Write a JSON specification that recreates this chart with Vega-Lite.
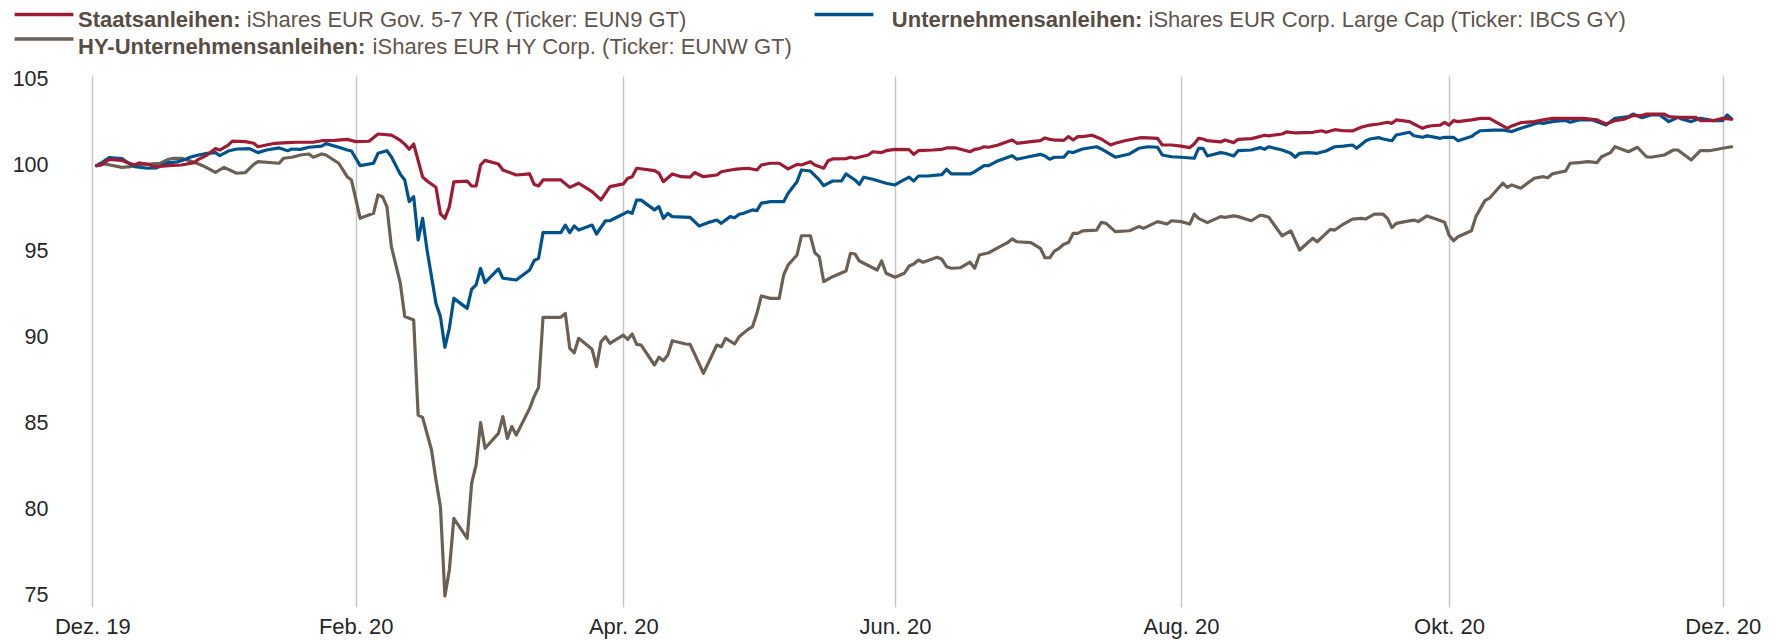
{
"$schema": "https://vega.github.io/schema/vega-lite/v6.json",
"width": 1660, "height": 531,
"autosize": {"type": "none"},
"padding": {"left": 92, "top": 76, "right": 27, "bottom": 33},
"background": "white",
"config": {"view": {"stroke": null}, "font": "Liberation Sans"},
"datasets": {
"hy": [
{"date":"2019-12-02","value":100.0},{"date":"2019-12-04","value":100.1},{"date":"2019-12-08","value":99.9},{"date":"2019-12-10","value":99.94},{"date":"2019-12-12","value":100.08},{"date":"2019-12-15","value":100.1},{"date":"2019-12-17","value":100.14},{"date":"2019-12-19","value":100.37},{"date":"2019-12-20","value":100.43},{"date":"2019-12-22","value":100.43},{"date":"2019-12-25","value":100.2},{"date":"2019-12-27","value":100.0},{"date":"2019-12-30","value":99.61},{"date":"2020-01-01","value":99.9},{"date":"2020-01-04","value":99.56},{"date":"2020-01-06","value":99.6},{"date":"2020-01-08","value":100.08},{"date":"2020-01-09","value":100.23},{"date":"2020-01-14","value":100.14},{"date":"2020-01-15","value":100.43},{"date":"2020-01-17","value":100.49},{"date":"2020-01-19","value":100.62},{"date":"2020-01-21","value":100.68},{"date":"2020-01-22","value":100.49},{"date":"2020-01-24","value":100.68},{"date":"2020-01-25","value":100.62},{"date":"2020-01-28","value":100.14},{"date":"2020-01-30","value":99.36},{"date":"2020-01-31","value":99.17},
{"date":"2020-02-02","value":96.94},{"date":"2020-02-05","value":97.23},{"date":"2020-02-06","value":98.3},{"date":"2020-02-07","value":98.2},{"date":"2020-02-08","value":97.62},{"date":"2020-02-09","value":95.3},{"date":"2020-02-11","value":93.17},{"date":"2020-02-12","value":91.23},{"date":"2020-02-13","value":91.13},{"date":"2020-02-14","value":91.03},{"date":"2020-02-15","value":85.51},{"date":"2020-02-16","value":85.38},{"date":"2020-02-18","value":83.48},{"date":"2020-02-19","value":81.74},{"date":"2020-02-20","value":80.19},{"date":"2020-02-21","value":75.0},{"date":"2020-02-22","value":76.51},{"date":"2020-02-23","value":79.51},{"date":"2020-02-26","value":78.35},{"date":"2020-02-27","value":81.55},{"date":"2020-02-28","value":82.61},{"date":"2020-02-29","value":85.07},
{"date":"2020-03-01","value":83.58},{"date":"2020-03-04","value":84.45},{"date":"2020-03-05","value":85.42},{"date":"2020-03-06","value":84.16},{"date":"2020-03-07","value":84.84},{"date":"2020-03-08","value":84.35},{"date":"2020-03-11","value":85.9},{"date":"2020-03-12","value":86.58},{"date":"2020-03-13","value":87.12},{"date":"2020-03-14","value":91.19},{"date":"2020-03-18","value":91.19},{"date":"2020-03-19","value":91.42},{"date":"2020-03-20","value":89.39},{"date":"2020-03-21","value":89.13},{"date":"2020-03-22","value":89.97},{"date":"2020-03-25","value":89.33},{"date":"2020-03-26","value":88.32},{"date":"2020-03-27","value":89.77},{"date":"2020-03-28","value":90.06},{"date":"2020-03-29","value":89.68},
{"date":"2020-04-01","value":90.16},{"date":"2020-04-02","value":89.91},{"date":"2020-04-03","value":90.22},{"date":"2020-04-04","value":89.62},{"date":"2020-04-05","value":89.58},{"date":"2020-04-08","value":88.42},{"date":"2020-04-09","value":88.87},{"date":"2020-04-10","value":88.67},{"date":"2020-04-11","value":89.0},{"date":"2020-04-12","value":89.83},{"date":"2020-04-15","value":89.64},{"date":"2020-04-16","value":89.62},{"date":"2020-04-19","value":87.94},{"date":"2020-04-22","value":89.58},{"date":"2020-04-23","value":89.48},{"date":"2020-04-24","value":89.97},{"date":"2020-04-26","value":89.64},{"date":"2020-04-27","value":90.06},{"date":"2020-04-29","value":90.49},{"date":"2020-04-30","value":90.64},
{"date":"2020-05-01","value":91.42},{"date":"2020-05-02","value":92.43},{"date":"2020-05-04","value":92.29},{"date":"2020-05-06","value":92.29},{"date":"2020-05-07","value":93.65},{"date":"2020-05-08","value":94.23},{"date":"2020-05-10","value":94.81},{"date":"2020-05-11","value":95.93},{"date":"2020-05-13","value":95.93},{"date":"2020-05-14","value":94.94},{"date":"2020-05-15","value":94.71},{"date":"2020-05-16","value":93.26},{"date":"2020-05-18","value":93.55},{"date":"2020-05-21","value":93.88},{"date":"2020-05-22","value":94.91},{"date":"2020-05-23","value":94.87},{"date":"2020-05-24","value":94.46},{"date":"2020-05-28","value":93.94},{"date":"2020-05-29","value":94.46},{"date":"2020-05-30","value":93.75},
{"date":"2020-06-01","value":93.52},{"date":"2020-06-03","value":93.75},{"date":"2020-06-04","value":94.17},{"date":"2020-06-05","value":94.29},{"date":"2020-06-06","value":94.52},{"date":"2020-06-07","value":94.39},{"date":"2020-06-10","value":94.68},{"date":"2020-06-11","value":94.56},{"date":"2020-06-12","value":94.13},{"date":"2020-06-13","value":94.04},{"date":"2020-06-15","value":94.07},{"date":"2020-06-17","value":94.39},{"date":"2020-06-18","value":94.04},{"date":"2020-06-19","value":94.81},{"date":"2020-06-21","value":94.94},{"date":"2020-06-23","value":95.24},{"date":"2020-06-25","value":95.53},{"date":"2020-06-26","value":95.74},{"date":"2020-06-27","value":95.58},{"date":"2020-06-30","value":95.53},
{"date":"2020-07-02","value":95.2},{"date":"2020-07-03","value":94.65},{"date":"2020-07-04","value":94.65},{"date":"2020-07-05","value":95.04},{"date":"2020-07-06","value":95.2},{"date":"2020-07-07","value":95.43},{"date":"2020-07-08","value":95.53},{"date":"2020-07-09","value":96.07},{"date":"2020-07-10","value":96.07},{"date":"2020-07-11","value":96.21},{"date":"2020-07-14","value":96.26},{"date":"2020-07-15","value":96.71},{"date":"2020-07-16","value":96.65},{"date":"2020-07-18","value":96.17},{"date":"2020-07-21","value":96.22},{"date":"2020-07-23","value":96.46},{"date":"2020-07-24","value":96.36},{"date":"2020-07-27","value":96.75},{"date":"2020-07-29","value":96.61},{"date":"2020-07-30","value":96.8},
{"date":"2020-08-01","value":96.75},{"date":"2020-08-03","value":96.61},{"date":"2020-08-04","value":97.19},{"date":"2020-08-05","value":96.94},{"date":"2020-08-07","value":96.69},{"date":"2020-08-10","value":97.04},{"date":"2020-08-11","value":97.0},{"date":"2020-08-13","value":97.08},{"date":"2020-08-14","value":97.04},{"date":"2020-08-17","value":96.8},{"date":"2020-08-19","value":97.12},{"date":"2020-08-20","value":97.08},{"date":"2020-08-21","value":97.0},{"date":"2020-08-24","value":95.93},{"date":"2020-08-26","value":96.21},{"date":"2020-08-28","value":95.1},{"date":"2020-08-31","value":95.78},
{"date":"2020-09-01","value":95.58},{"date":"2020-09-04","value":96.3},{"date":"2020-09-05","value":96.26},{"date":"2020-09-07","value":96.61},{"date":"2020-09-09","value":96.9},{"date":"2020-09-11","value":96.94},{"date":"2020-09-12","value":96.9},{"date":"2020-09-14","value":97.19},{"date":"2020-09-16","value":97.18},{"date":"2020-09-17","value":96.94},{"date":"2020-09-18","value":96.4},{"date":"2020-09-19","value":96.65},{"date":"2020-09-21","value":96.75},{"date":"2020-09-23","value":96.84},{"date":"2020-09-24","value":96.75},{"date":"2020-09-26","value":97.08},{"date":"2020-09-28","value":96.9},{"date":"2020-09-30","value":96.71},
{"date":"2020-10-01","value":95.97},{"date":"2020-10-02","value":95.64},{"date":"2020-10-03","value":95.87},{"date":"2020-10-06","value":96.22},{"date":"2020-10-07","value":97.04},{"date":"2020-10-09","value":97.97},{"date":"2020-10-10","value":98.11},{"date":"2020-10-13","value":98.98},{"date":"2020-10-14","value":98.74},{"date":"2020-10-15","value":98.88},{"date":"2020-10-17","value":98.69},{"date":"2020-10-20","value":99.27},{"date":"2020-10-22","value":99.36},{"date":"2020-10-23","value":99.3},{"date":"2020-10-24","value":99.52},{"date":"2020-10-27","value":99.69},{"date":"2020-10-28","value":100.14},{"date":"2020-10-30","value":100.18},
{"date":"2020-11-01","value":100.23},{"date":"2020-11-03","value":100.18},{"date":"2020-11-04","value":100.52},{"date":"2020-11-06","value":100.76},{"date":"2020-11-07","value":101.1},{"date":"2020-11-10","value":100.81},{"date":"2020-11-12","value":101.07},{"date":"2020-11-14","value":100.52},{"date":"2020-11-15","value":100.49},{"date":"2020-11-18","value":100.62},{"date":"2020-11-20","value":100.91},{"date":"2020-11-21","value":100.91},{"date":"2020-11-24","value":100.33},{"date":"2020-11-26","value":100.87},{"date":"2020-11-28","value":100.87},{"date":"2020-12-01","value":101.01},{"date":"2020-12-03","value":101.1}
],
"corp": [
{"date":"2019-12-02","value":100.0},{"date":"2019-12-03","value":100.14},{"date":"2019-12-05","value":100.47},{"date":"2019-12-08","value":100.41},{"date":"2019-12-09","value":100.23},{"date":"2019-12-11","value":99.94},{"date":"2019-12-14","value":99.85},{"date":"2019-12-16","value":99.87},{"date":"2019-12-19","value":100.18},{"date":"2019-12-21","value":100.22},{"date":"2019-12-23","value":100.37},{"date":"2019-12-24","value":100.49},{"date":"2019-12-26","value":100.62},{"date":"2019-12-28","value":100.72},{"date":"2019-12-30","value":100.76},{"date":"2019-12-31","value":100.58},
{"date":"2020-01-02","value":100.85},{"date":"2020-01-04","value":100.97},{"date":"2020-01-07","value":100.99},{"date":"2020-01-09","value":100.76},{"date":"2020-01-11","value":100.91},{"date":"2020-01-14","value":101.03},{"date":"2020-01-16","value":100.87},{"date":"2020-01-17","value":100.97},{"date":"2020-01-19","value":100.95},{"date":"2020-01-21","value":101.07},{"date":"2020-01-24","value":101.14},{"date":"2020-01-25","value":101.28},{"date":"2020-01-28","value":101.07},{"date":"2020-01-30","value":100.91},{"date":"2020-01-31","value":100.85},
{"date":"2020-02-02","value":100.0},{"date":"2020-02-05","value":100.14},{"date":"2020-02-06","value":100.72},{"date":"2020-02-08","value":100.87},{"date":"2020-02-09","value":100.52},{"date":"2020-02-11","value":99.5},{"date":"2020-02-12","value":99.17},{"date":"2020-02-13","value":97.91},{"date":"2020-02-14","value":98.2},{"date":"2020-02-15","value":95.68},{"date":"2020-02-16","value":96.94},{"date":"2020-02-17","value":95.1},{"date":"2020-02-19","value":92.0},{"date":"2020-02-20","value":91.23},{"date":"2020-02-21","value":89.45},{"date":"2020-02-22","value":90.55},{"date":"2020-02-23","value":92.29},{"date":"2020-02-26","value":91.71},{"date":"2020-02-27","value":92.82},{"date":"2020-02-28","value":93.07},{"date":"2020-02-29","value":94.04},
{"date":"2020-03-01","value":93.2},{"date":"2020-03-04","value":94.0},{"date":"2020-03-05","value":93.46},{"date":"2020-03-08","value":93.36},{"date":"2020-03-11","value":93.94},{"date":"2020-03-12","value":94.48},{"date":"2020-03-13","value":94.62},{"date":"2020-03-14","value":96.11},{"date":"2020-03-18","value":96.11},{"date":"2020-03-19","value":96.55},{"date":"2020-03-20","value":96.11},{"date":"2020-03-21","value":96.5},{"date":"2020-03-22","value":96.26},{"date":"2020-03-25","value":96.55},{"date":"2020-03-26","value":96.03},{"date":"2020-03-28","value":96.8},{"date":"2020-03-29","value":96.8},
{"date":"2020-04-01","value":97.19},{"date":"2020-04-02","value":97.33},{"date":"2020-04-03","value":97.23},{"date":"2020-04-04","value":98.0},{"date":"2020-04-05","value":98.0},{"date":"2020-04-08","value":97.43},{"date":"2020-04-09","value":97.62},{"date":"2020-04-10","value":96.94},{"date":"2020-04-11","value":97.23},{"date":"2020-04-12","value":97.04},{"date":"2020-04-16","value":97.0},{"date":"2020-04-18","value":96.5},{"date":"2020-04-20","value":96.69},{"date":"2020-04-22","value":96.84},{"date":"2020-04-23","value":96.65},{"date":"2020-04-25","value":97.04},{"date":"2020-04-26","value":96.97},{"date":"2020-04-27","value":97.18},{"date":"2020-04-28","value":97.23},{"date":"2020-04-30","value":97.43},
{"date":"2020-05-01","value":97.39},{"date":"2020-05-02","value":97.82},{"date":"2020-05-04","value":97.91},{"date":"2020-05-07","value":97.91},{"date":"2020-05-08","value":98.4},{"date":"2020-05-10","value":99.07},{"date":"2020-05-11","value":99.75},{"date":"2020-05-13","value":99.69},{"date":"2020-05-15","value":99.17},{"date":"2020-05-16","value":98.84},{"date":"2020-05-18","value":99.11},{"date":"2020-05-20","value":99.11},{"date":"2020-05-21","value":99.52},{"date":"2020-05-23","value":99.17},{"date":"2020-05-24","value":98.92},{"date":"2020-05-25","value":99.33},{"date":"2020-05-27","value":99.21},{"date":"2020-05-30","value":98.98},
{"date":"2020-06-01","value":98.88},{"date":"2020-06-02","value":99.04},{"date":"2020-06-04","value":99.33},{"date":"2020-06-05","value":99.11},{"date":"2020-06-06","value":99.4},{"date":"2020-06-08","value":99.4},{"date":"2020-06-11","value":99.48},{"date":"2020-06-12","value":99.79},{"date":"2020-06-13","value":99.52},{"date":"2020-06-17","value":99.52},{"date":"2020-06-18","value":99.65},{"date":"2020-06-20","value":100.0},{"date":"2020-06-21","value":100.0},{"date":"2020-06-23","value":100.29},{"date":"2020-06-26","value":100.58},{"date":"2020-06-27","value":100.37},{"date":"2020-06-29","value":100.49},
{"date":"2020-07-02","value":100.66},{"date":"2020-07-03","value":100.56},{"date":"2020-07-04","value":100.37},{"date":"2020-07-05","value":100.49},{"date":"2020-07-07","value":100.49},{"date":"2020-07-08","value":100.81},{"date":"2020-07-09","value":100.76},{"date":"2020-07-11","value":100.97},{"date":"2020-07-14","value":101.1},{"date":"2020-07-15","value":100.97},{"date":"2020-07-18","value":100.49},{"date":"2020-07-21","value":100.68},{"date":"2020-07-23","value":101.01},{"date":"2020-07-25","value":101.1},{"date":"2020-07-27","value":101.07},{"date":"2020-07-28","value":100.62},{"date":"2020-07-30","value":100.52},
{"date":"2020-08-01","value":100.49},{"date":"2020-08-04","value":100.43},{"date":"2020-08-05","value":101.01},{"date":"2020-08-06","value":101.01},{"date":"2020-08-07","value":100.56},{"date":"2020-08-10","value":100.76},{"date":"2020-08-11","value":100.72},{"date":"2020-08-13","value":100.56},{"date":"2020-08-14","value":100.87},{"date":"2020-08-17","value":100.91},{"date":"2020-08-19","value":101.05},{"date":"2020-08-20","value":100.95},{"date":"2020-08-21","value":101.1},{"date":"2020-08-24","value":100.91},{"date":"2020-08-26","value":100.72},{"date":"2020-08-27","value":100.49},{"date":"2020-08-28","value":100.72},{"date":"2020-08-30","value":100.76},
{"date":"2020-09-01","value":100.72},{"date":"2020-09-03","value":100.85},{"date":"2020-09-05","value":101.1},{"date":"2020-09-07","value":101.14},{"date":"2020-09-09","value":101.2},{"date":"2020-09-10","value":101.01},{"date":"2020-09-12","value":101.43},{"date":"2020-09-13","value":101.55},{"date":"2020-09-15","value":101.63},{"date":"2020-09-16","value":101.55},{"date":"2020-09-18","value":101.45},{"date":"2020-09-19","value":101.78},{"date":"2020-09-22","value":101.94},{"date":"2020-09-23","value":101.74},{"date":"2020-09-25","value":101.65},{"date":"2020-09-26","value":101.73},{"date":"2020-09-27","value":101.69},{"date":"2020-09-29","value":101.59},{"date":"2020-09-30","value":101.65},
{"date":"2020-10-02","value":101.65},{"date":"2020-10-03","value":101.45},{"date":"2020-10-06","value":101.69},{"date":"2020-10-07","value":101.88},{"date":"2020-10-08","value":102.03},{"date":"2020-10-11","value":102.07},{"date":"2020-10-13","value":102.07},{"date":"2020-10-15","value":101.98},{"date":"2020-10-17","value":102.17},{"date":"2020-10-20","value":102.42},{"date":"2020-10-21","value":102.5},{"date":"2020-10-22","value":102.46},{"date":"2020-10-24","value":102.56},{"date":"2020-10-26","value":102.62},{"date":"2020-10-27","value":102.62},{"date":"2020-10-28","value":102.52},{"date":"2020-10-30","value":102.66},
{"date":"2020-11-02","value":102.66},{"date":"2020-11-05","value":102.36},{"date":"2020-11-07","value":102.75},{"date":"2020-11-10","value":102.85},{"date":"2020-11-11","value":103.0},{"date":"2020-11-13","value":102.79},{"date":"2020-11-15","value":102.95},{"date":"2020-11-17","value":102.95},{"date":"2020-11-19","value":102.56},{"date":"2020-11-21","value":102.81},{"date":"2020-11-22","value":102.7},{"date":"2020-11-24","value":102.56},{"date":"2020-11-26","value":102.75},{"date":"2020-11-29","value":102.62},{"date":"2020-12-01","value":102.62},{"date":"2020-12-02","value":102.95},{"date":"2020-12-03","value":102.71}
],
"gov": [
{"date":"2019-12-02","value":100.0},{"date":"2019-12-03","value":100.04},{"date":"2019-12-05","value":100.37},{"date":"2019-12-08","value":100.31},{"date":"2019-12-09","value":100.2},{"date":"2019-12-11","value":100.04},{"date":"2019-12-12","value":100.16},{"date":"2019-12-14","value":100.08},{"date":"2019-12-16","value":99.94},{"date":"2019-12-19","value":100.0},{"date":"2019-12-22","value":100.04},{"date":"2019-12-25","value":100.18},{"date":"2019-12-26","value":100.37},{"date":"2019-12-28","value":100.62},{"date":"2019-12-30","value":100.99},{"date":"2019-12-31","value":100.91},
{"date":"2020-01-02","value":101.2},{"date":"2020-01-03","value":101.43},{"date":"2020-01-06","value":101.4},{"date":"2020-01-08","value":101.3},{"date":"2020-01-09","value":101.1},{"date":"2020-01-11","value":101.2},{"date":"2020-01-13","value":101.3},{"date":"2020-01-16","value":101.34},{"date":"2020-01-18","value":101.36},{"date":"2020-01-22","value":101.36},{"date":"2020-01-24","value":101.45},{"date":"2020-01-27","value":101.47},{"date":"2020-01-30","value":101.53},
{"date":"2020-02-01","value":101.4},{"date":"2020-02-04","value":101.42},{"date":"2020-02-06","value":101.84},{"date":"2020-02-09","value":101.77},{"date":"2020-02-10","value":101.63},{"date":"2020-02-11","value":101.47},{"date":"2020-02-12","value":101.25},{"date":"2020-02-13","value":100.95},{"date":"2020-02-14","value":101.26},{"date":"2020-02-15","value":100.3},{"date":"2020-02-16","value":99.35},{"date":"2020-02-17","value":99.11},{"date":"2020-02-19","value":98.75},{"date":"2020-02-20","value":97.2},{"date":"2020-02-21","value":96.94},{"date":"2020-02-22","value":97.62},{"date":"2020-02-23","value":99.06},{"date":"2020-02-26","value":99.1},{"date":"2020-02-27","value":98.82},{"date":"2020-02-28","value":98.82},{"date":"2020-02-29","value":100.04},
{"date":"2020-03-01","value":100.31},{"date":"2020-03-04","value":100.1},{"date":"2020-03-05","value":99.75},{"date":"2020-03-08","value":99.46},{"date":"2020-03-11","value":99.52},{"date":"2020-03-12","value":98.92},{"date":"2020-03-13","value":98.82},{"date":"2020-03-14","value":99.17},{"date":"2020-03-18","value":99.17},{"date":"2020-03-20","value":98.74},{"date":"2020-03-22","value":98.98},{"date":"2020-03-25","value":98.49},{"date":"2020-03-27","value":98.01},{"date":"2020-03-29","value":98.78},
{"date":"2020-04-01","value":98.94},{"date":"2020-04-02","value":99.27},{"date":"2020-04-03","value":99.36},{"date":"2020-04-04","value":99.85},{"date":"2020-04-08","value":99.71},{"date":"2020-04-09","value":99.56},{"date":"2020-04-10","value":99.07},{"date":"2020-04-12","value":99.52},{"date":"2020-04-14","value":99.36},{"date":"2020-04-16","value":99.33},{"date":"2020-04-17","value":99.6},{"date":"2020-04-19","value":99.36},{"date":"2020-04-22","value":99.46},{"date":"2020-04-23","value":99.65},{"date":"2020-04-26","value":99.79},{"date":"2020-04-27","value":99.81},{"date":"2020-04-29","value":99.85},
{"date":"2020-05-01","value":99.75},{"date":"2020-05-02","value":100.04},{"date":"2020-05-04","value":100.14},{"date":"2020-05-06","value":100.14},{"date":"2020-05-08","value":99.81},{"date":"2020-05-10","value":100.08},{"date":"2020-05-11","value":100.04},{"date":"2020-05-13","value":100.23},{"date":"2020-05-14","value":100.04},{"date":"2020-05-16","value":99.85},{"date":"2020-05-17","value":100.29},{"date":"2020-05-18","value":100.39},{"date":"2020-05-21","value":100.41},{"date":"2020-05-22","value":100.49},{"date":"2020-05-23","value":100.43},{"date":"2020-05-26","value":100.62},{"date":"2020-05-27","value":100.81},{"date":"2020-05-29","value":100.76},{"date":"2020-05-30","value":100.87},
{"date":"2020-06-01","value":100.95},{"date":"2020-06-04","value":100.93},{"date":"2020-06-05","value":100.66},{"date":"2020-06-06","value":100.87},{"date":"2020-06-09","value":100.91},{"date":"2020-06-11","value":100.95},{"date":"2020-06-12","value":101.03},{"date":"2020-06-14","value":101.03},{"date":"2020-06-17","value":100.81},{"date":"2020-06-18","value":100.95},{"date":"2020-06-19","value":100.99},{"date":"2020-06-20","value":101.1},{"date":"2020-06-21","value":101.07},{"date":"2020-06-23","value":101.2},{"date":"2020-06-24","value":101.3},{"date":"2020-06-26","value":101.49},{"date":"2020-06-27","value":101.3},{"date":"2020-06-30","value":101.4},
{"date":"2020-07-02","value":101.45},{"date":"2020-07-03","value":101.61},{"date":"2020-07-04","value":101.53},{"date":"2020-07-05","value":101.49},{"date":"2020-07-06","value":101.49},{"date":"2020-07-07","value":101.47},{"date":"2020-07-08","value":101.69},{"date":"2020-07-09","value":101.49},{"date":"2020-07-10","value":101.69},{"date":"2020-07-11","value":101.69},{"date":"2020-07-13","value":101.77},{"date":"2020-07-15","value":101.55},{"date":"2020-07-17","value":101.2},{"date":"2020-07-18","value":101.3},{"date":"2020-07-20","value":101.45},{"date":"2020-07-23","value":101.61},{"date":"2020-07-24","value":101.63},{"date":"2020-07-27","value":101.59},{"date":"2020-07-28","value":101.2},{"date":"2020-07-30","value":101.2},
{"date":"2020-08-01","value":101.14},{"date":"2020-08-03","value":101.05},{"date":"2020-08-04","value":101.26},{"date":"2020-08-05","value":101.59},{"date":"2020-08-06","value":101.55},{"date":"2020-08-07","value":101.45},{"date":"2020-08-10","value":101.38},{"date":"2020-08-11","value":101.49},{"date":"2020-08-13","value":101.34},{"date":"2020-08-14","value":101.53},{"date":"2020-08-17","value":101.57},{"date":"2020-08-18","value":101.63},{"date":"2020-08-20","value":101.77},{"date":"2020-08-21","value":101.73},{"date":"2020-08-24","value":101.84},{"date":"2020-08-25","value":101.96},{"date":"2020-08-27","value":101.9},{"date":"2020-08-31","value":101.94},
{"date":"2020-09-02","value":102.03},{"date":"2020-09-03","value":101.94},{"date":"2020-09-05","value":102.09},{"date":"2020-09-07","value":102.03},{"date":"2020-09-09","value":102.02},{"date":"2020-09-11","value":102.23},{"date":"2020-09-13","value":102.36},{"date":"2020-09-15","value":102.42},{"date":"2020-09-17","value":102.52},{"date":"2020-09-18","value":102.46},{"date":"2020-09-19","value":102.66},{"date":"2020-09-22","value":102.56},{"date":"2020-09-23","value":102.42},{"date":"2020-09-25","value":102.17},{"date":"2020-09-26","value":102.27},{"date":"2020-09-27","value":102.32},{"date":"2020-09-29","value":102.36},{"date":"2020-09-30","value":102.52},
{"date":"2020-10-01","value":102.36},{"date":"2020-10-02","value":102.62},{"date":"2020-10-03","value":102.56},{"date":"2020-10-06","value":102.66},{"date":"2020-10-08","value":102.75},{"date":"2020-10-10","value":102.75},{"date":"2020-10-12","value":102.46},{"date":"2020-10-14","value":102.17},{"date":"2020-10-15","value":102.31},{"date":"2020-10-17","value":102.5},{"date":"2020-10-20","value":102.56},{"date":"2020-10-22","value":102.66},{"date":"2020-10-24","value":102.75},{"date":"2020-10-28","value":102.75},{"date":"2020-10-31","value":102.75},
{"date":"2020-11-03","value":102.66},{"date":"2020-11-05","value":102.42},{"date":"2020-11-07","value":102.62},{"date":"2020-11-09","value":102.7},{"date":"2020-11-11","value":102.91},{"date":"2020-11-13","value":102.91},{"date":"2020-11-14","value":103.0},{"date":"2020-11-18","value":103.0},{"date":"2020-11-19","value":102.85},{"date":"2020-11-21","value":102.81},{"date":"2020-11-25","value":102.81},{"date":"2020-11-26","value":102.62},{"date":"2020-11-29","value":102.62},{"date":"2020-12-01","value":102.75},{"date":"2020-12-03","value":102.71}
]
},
"encoding": {
"x": {"field": "date", "type": "temporal",
 "scale": {"type": "utc", "nice": false,
  "domainRaw": {"expr": "[utc(2019,11,1), utc(2020,1,1), utc(2020,3,1), utc(2020,5,1), utc(2020,7,1), utc(2020,9,1), utc(2020,11,1)]"},
  "range": [0.3, 263.7, 531.3, 803, 1089, 1357, 1630.7]},
 "axis": {"title": null,
  "values": [{"year":2019,"month":12,"date":1,"utc":true},{"year":2020,"month":2,"date":1,"utc":true},{"year":2020,"month":4,"date":1,"utc":true},{"year":2020,"month":6,"date":1,"utc":true},{"year":2020,"month":8,"date":1,"utc":true},{"year":2020,"month":10,"date":1,"utc":true},{"year":2020,"month":12,"date":1,"utc":true}],
  "labelExpr": "['Jan.','Feb.','Mär.','Apr.','Mai','Jun.','Jul.','Aug.','Sep.','Okt.','Nov.','Dez.'][utcmonth(datum.value)] + ' ' + utcFormat(datum.value, '%y')",
  "grid": true, "gridColor": "#c6c6c6", "gridWidth": 1.5,
  "domain": false, "ticks": false, "labelPadding": 9,
  "labelFontSize": 22, "labelColor": "#262626", "labelFont": "Liberation Sans",
  "labelFlush": false, "labelOverlap": false}},
"y": {"field": "value", "type": "quantitative",
 "scale": {"domain": [74.36, 105.21], "nice": false, "zero": false},
 "axis": {"title": null, "values": [75,80,85,90,95,100,105], "grid": false, "domain": false, "ticks": false,
  "labelPadding": 44, "labelFontSize": 21.5, "labelColor": "#262626", "labelFont": "Liberation Sans"}}
},
"resolve": {"scale": {"color": "independent", "opacity": "independent"}},
"layer": [
{"data": {"name": "hy"},
 "mark": {"type": "line", "strokeWidth": 3.2, "strokeJoin": "round", "strokeCap": "round"},
 "encoding": {
  "color": {"datum": "HY-Unternehmensanleihen:", "type": "nominal",
   "scale": {"range": ["#6c6054"]},
   "legend": {"title": null, "orient": "none", "legendX": -59, "legendY": -40, "padding": 0,
    "symbolType": "M-8,-2.2H8", "symbolSize": 54, "symbolStrokeWidth": 3.5,
    "labelFontSize": 22, "labelFontWeight": "bold", "labelColor": "#574d44", "labelFont": "Liberation Sans", "labelLimit": 0, "labelOffset": 23}},
  "opacity": {"datum": "iShares EUR HY Corp. (Ticker: EUNW GT)", "type": "nominal",
   "scale": {"range": [1, 1]},
   "legend": {"title": null, "orient": "none", "legendX": 258.6, "legendY": -40, "padding": 0,
    "symbolSize": 0, "symbolStrokeWidth": 0, "symbolOpacity": 0,
    "labelFontSize": 22, "labelColor": "#5f554c", "labelFont": "Liberation Sans", "labelLimit": 0, "labelOffset": 0}}}},
{"data": {"name": "corp"},
 "mark": {"type": "line", "strokeWidth": 3.2, "strokeJoin": "round", "strokeCap": "round"},
 "encoding": {
  "color": {"datum": "Unternehmensanleihen:", "type": "nominal",
   "scale": {"range": ["#00528c"]},
   "legend": {"title": null, "orient": "none", "legendX": 741, "legendY": -67, "padding": 0,
    "symbolType": "M-8,-1.5H8", "symbolSize": 54, "symbolStrokeWidth": 3.5,
    "labelFontSize": 22, "labelFontWeight": "bold", "labelColor": "#574d44", "labelFont": "Liberation Sans", "labelLimit": 0, "labelOffset": 36.8}},
  "opacity": {"datum": "iShares EUR Corp. Large Cap (Ticker: IBCS GY)", "type": "nominal",
   "scale": {"range": [1, 1]},
   "legend": {"title": null, "orient": "none", "legendX": 1034.5, "legendY": -67, "padding": 0,
    "symbolSize": 0, "symbolStrokeWidth": 0, "symbolOpacity": 0,
    "labelFontSize": 22, "labelColor": "#5f554c", "labelFont": "Liberation Sans", "labelLimit": 0, "labelOffset": 0}}}},
{"data": {"name": "gov"},
 "mark": {"type": "line", "strokeWidth": 3.2, "strokeJoin": "round", "strokeCap": "round"},
 "encoding": {
  "color": {"datum": "Staatsanleihen:", "type": "nominal",
   "scale": {"range": ["#9e1c33"]},
   "legend": {"title": null, "orient": "none", "legendX": -59, "legendY": -67, "padding": 0,
    "symbolType": "M-8,-1.5H8", "symbolSize": 54, "symbolStrokeWidth": 3.5,
    "labelFontSize": 22, "labelFontWeight": "bold", "labelColor": "#574d44", "labelFont": "Liberation Sans", "labelLimit": 0, "labelOffset": 23}},
  "opacity": {"datum": "iShares EUR Gov. 5-7 YR (Ticker: EUN9 GT)", "type": "nominal",
   "scale": {"range": [1, 1]},
   "legend": {"title": null, "orient": "none", "legendX": 132.7, "legendY": -67, "padding": 0,
    "symbolSize": 0, "symbolStrokeWidth": 0, "symbolOpacity": 0,
    "labelFontSize": 22, "labelColor": "#5f554c", "labelFont": "Liberation Sans", "labelLimit": 0, "labelOffset": 0}}}}
]
}
